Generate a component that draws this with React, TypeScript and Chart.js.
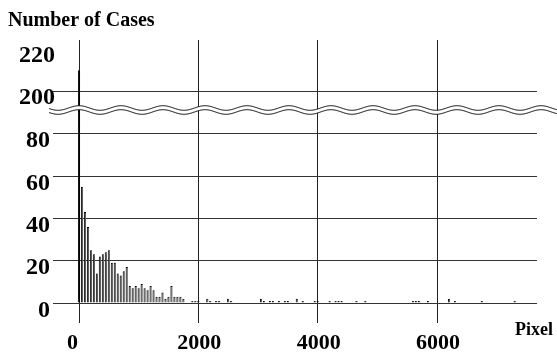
import { useEffect, useRef } from 'react';
import { Chart, registerables } from 'chart.js';

Chart.register(...registerables);

// Histogram bins (pixel value) and number of cases in each bin
const binStarts = [
  0, 50, 100, 150, 200, 250, 300, 350, 400, 450, 500, 550, 600, 650, 700, 750, 800, 850, 900, 950,
  1000, 1050, 1100, 1150, 1200, 1250, 1300, 1350, 1400, 1450, 1500, 1550, 1600, 1650, 1700, 1750,
  1900, 1950, 2000, 2150, 2200, 2300, 2350, 2500, 2550, 3050, 3100, 3200, 3250, 3350, 3450, 3500,
  3650, 3750, 3950, 4000, 4200, 4300, 4350, 4400, 4650, 4800, 5600, 5650, 5700, 5850, 6200, 6300,
  6750, 7300,
];
const caseCounts = [
  210, 55, 43, 36, 25, 23, 14, 22, 23, 24, 25, 19, 19, 14, 13, 15, 17, 8, 7, 8,
  7, 9, 7, 6, 8, 6, 3, 3, 5, 2, 3, 8, 3, 3, 3, 2,
  1, 1, 1, 2, 1, 1, 1, 2, 1, 2, 1, 1, 1, 1, 1, 1,
  2, 1, 1, 1, 1, 1, 1, 1, 1, 1, 1, 1, 1, 1, 2, 1,
  1, 1,
];

const lowerTicks = [0, 20, 40, 60, 80];
const upperGridTicks = [200];
const upperLabels = [220, 200];
const xTicks = [0, 2000, 4000, 6000];
const yTitle = 'Number of Cases';
const xTitle = 'Pixel';

// axis ranges of the broken y axis
const LOWER_MAX = 90.8;
const UPPER_MIN = 190.4;
const UPPER_MAX = 224.5;
const X_MIN = -436;
const X_MAX = 7675;

const FONT = '"Liberation Serif", "Times New Roman", serif';

const breakPlugin = {
  id: 'breakAndLabels',
  afterDatasetsDraw(chart: any) {
    const ctx = chart.ctx;
    const yLow = chart.scales.y;
    const b = yLow.top;
    const P = 42;
    const A = 2.3;
    const x0 = chart.scales.x.getPixelForValue(0);
    const up = (x: number) => b - 3 - A * Math.cos((2 * Math.PI * (x - x0)) / P);
    const lo = (x: number) => b + 1 - A * Math.cos((2 * Math.PI * (x - x0)) / P);
    const xs: number[] = [];
    for (let x = 49; x <= 560; x += 0.5) xs.push(x);
    ctx.save();
    ctx.beginPath();
    xs.forEach((x, i) => (i ? ctx.lineTo(x, up(x)) : ctx.moveTo(x, up(x))));
    for (let i = xs.length - 1; i >= 0; i--) ctx.lineTo(xs[i], lo(xs[i]));
    ctx.closePath();
    ctx.fillStyle = '#fff';
    ctx.fill();
    ctx.strokeStyle = '#000';
    ctx.lineWidth = 1;
    ctx.beginPath();
    xs.forEach((x, i) => (i ? ctx.lineTo(x, up(x)) : ctx.moveTo(x, up(x))));
    ctx.stroke();
    ctx.beginPath();
    xs.forEach((x, i) => (i ? ctx.lineTo(x, lo(x)) : ctx.moveTo(x, lo(x))));
    ctx.stroke();
    ctx.restore();
  },
  afterDraw(chart: any) {
    const ctx = chart.ctx;
    const { x, y, yTop } = chart.scales;
    ctx.save();
    ctx.fillStyle = '#000';
    ctx.textBaseline = 'alphabetic';
    ctx.font = `bold 24px ${FONT}`;
    ctx.textAlign = 'right';
    lowerTicks.forEach((v) => ctx.fillText(String(v), 50, y.getPixelForValue(v) + 13.5));
    upperLabels.forEach((v) => ctx.fillText(String(v), 55, yTop.getPixelForValue(v) + 13));
    ctx.font = `bold 22px ${FONT}`;
    ctx.textAlign = 'center';
    xTicks.forEach((v) => {
      const dx = v === 0 ? -6.5 : 1;
      ctx.fillText(String(v), x.getPixelForValue(v) + dx, 349);
    });
    ctx.textAlign = 'left';
    ctx.font = `bold 20px ${FONT}`;
    ctx.fillText(yTitle, 8, 25.5);
    ctx.font = `bold 18px ${FONT}`;
    ctx.fillText(xTitle, 515, 335);
    ctx.restore();
  },
};

export default function App() {
  const ref = useRef<HTMLCanvasElement | null>(null);

  useEffect(() => {
    if (!ref.current) return;
    const lowerData = binStarts.map((b, i) => ({ x: b, y: Math.min(caseCounts[i], LOWER_MAX) }));
    const upperData = binStarts
      .map((b, i) => (caseCounts[i] > UPPER_MIN ? { x: b, y: [UPPER_MIN, caseCounts[i]] } : null))
      .filter(Boolean) as any[];

    const barStyle = {
      grouped: false,
      barPercentage: 0.75,
      categoryPercentage: 1,
      backgroundColor: (c: any) => (c.dataIndex === 0 ? '#000' : '#5e5e5e'),
      borderColor: '#000',
      borderWidth: { left: 1, top: 1, right: 0, bottom: 0 },
      borderSkipped: 'start',
    };

    const chart = new Chart(ref.current, {
      type: 'bar',
      data: {
        datasets: [
          { ...barStyle, label: 'lower', data: lowerData, xAxisID: 'x', yAxisID: 'y' } as any,
          { ...barStyle, label: 'upper', data: upperData, xAxisID: 'x', yAxisID: 'yTop', backgroundColor: '#000' } as any,
        ],
      },
      options: {
        animation: false,
        responsive: false,
        devicePixelRatio: 1,
        layout: { padding: { left: 53, top: 40, right: 20, bottom: 29 } },
        plugins: { legend: { display: false }, tooltip: { enabled: false } },
        scales: {
          x: {
            type: 'linear',
            min: X_MIN,
            max: X_MAX,
            offset: false,
            afterBuildTicks: (axis: any) => {
              axis.ticks = xTicks.map((v) => ({ value: v }));
            },
            ticks: { display: false },
            border: { display: false },
            grid: { offset: false, color: '#222', tickColor: '#222', lineWidth: 1, drawTicks: true, tickLength: 20 },
          },
          y: {
            type: 'linear',
            position: 'left',
            stack: 'broken',
            stackWeight: 192,
            weight: 0,
            min: 0,
            max: LOWER_MAX,
            afterBuildTicks: (axis: any) => {
              axis.ticks = lowerTicks.map((v) => ({ value: v }));
            },
            ticks: { display: false },
            border: { display: false },
            grid: { color: '#333', lineWidth: 1, drawTicks: false },
          },
          yTop: {
            type: 'linear',
            position: 'left',
            stack: 'broken',
            stackWeight: 71,
            weight: 1,
            min: UPPER_MIN,
            max: UPPER_MAX,
            afterBuildTicks: (axis: any) => {
              axis.ticks = upperGridTicks.map((v) => ({ value: v }));
            },
            ticks: { display: false },
            border: { display: false },
            grid: { color: '#333', lineWidth: 1, drawTicks: false },
          },
        } as any,
      },
      plugins: [breakPlugin],
    });
    return () => chart.destroy();
  }, []);

  return (
    <div style={{ position: 'absolute', left: 0, top: 0, width: 557, height: 352, background: '#fff' }}>
      <canvas ref={ref} width={557} height={352} />
    </div>
  );
}
